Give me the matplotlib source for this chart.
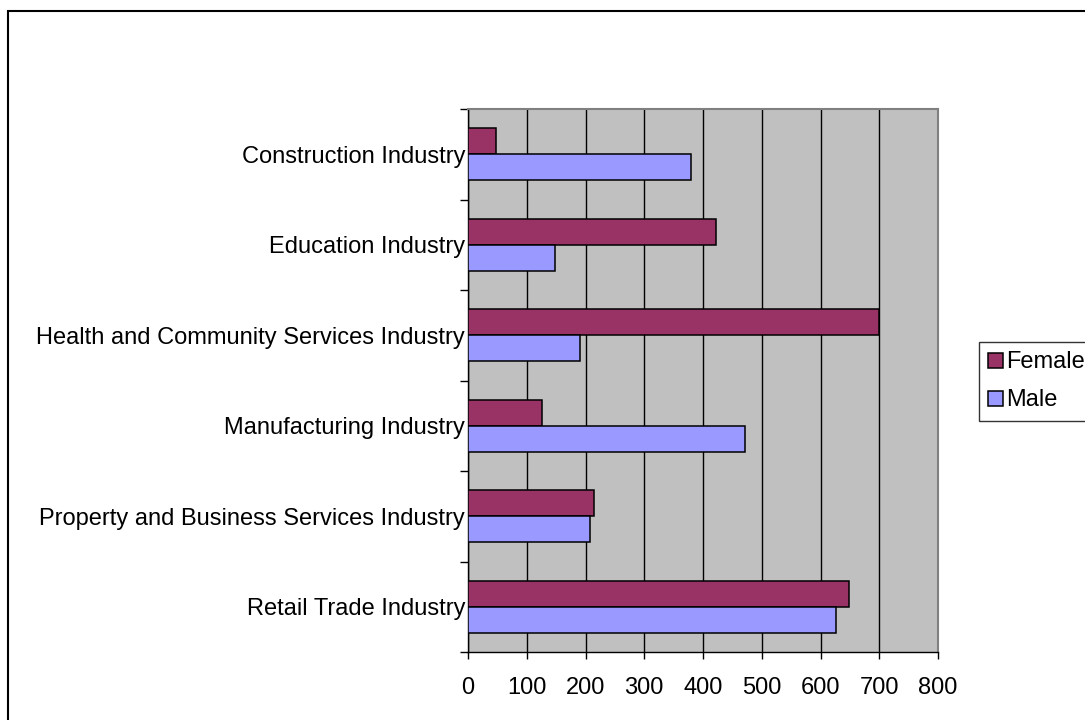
import numpy as np
import matplotlib.pyplot as plt
from matplotlib.patches import Rectangle

plt.rcParams['font.family'] = ['Liberation Sans', 'DejaVu Sans']

industries = ['Construction Industry', 'Education Industry',
              'Health and Community Services Industry', 'Manufacturing Industry',
              'Property and Business Services Industry', 'Retail Trade Industry']
female = [47, 422, 700, 126, 215, 648]
male = [380, 148, 190, 471, 208, 626]

female_color = '#993366'
male_color = '#9999FF'

fig = plt.figure(figsize=(10.85, 7.2), dpi=100)
ax = fig.add_axes([468 / 1085, 1 - 652 / 720, 470 / 1085, 543 / 720])
ax.set_facecolor('#C0C0C0')

# first category sits at the top, like the spreadsheet chart
pos = np.arange(len(industries))[::-1]
bar_h = 1 / 3.5
ax.barh(pos + bar_h / 2, female, height=bar_h, color=female_color,
        edgecolor='black', linewidth=1.1, label='Female', zorder=3)
ax.barh(pos - bar_h / 2, male, height=bar_h, color=male_color,
        edgecolor='black', linewidth=1.1, label='Male', zorder=3)

ax.set_xlim(0, 800)
ax.set_ylim(-0.5, len(industries) - 0.5)
ax.set_xticks(np.arange(0, 801, 100))
ax.xaxis.grid(True, color='black', linewidth=1, zorder=1)
ax.set_axisbelow(True)

ax.set_yticks(pos)
ax.set_yticklabels(industries)
ax.set_yticks(np.arange(-0.5, len(industries), 1), minor=True)
ax.tick_params(axis='y', which='major', length=0, pad=2, labelsize=17)
ax.tick_params(axis='y', which='minor', length=6, width=1, direction='out')
ax.tick_params(axis='x', length=5, width=1, direction='out', pad=13, labelsize=17)

for side in ('top', 'right'):
    ax.spines[side].set_color('#808080')
    ax.spines[side].set_linewidth(1.5)
for side in ('left', 'bottom'):
    ax.spines[side].set_color('black')
    ax.spines[side].set_linewidth(1)

# legend box runs past the right edge of the chart area
leg = fig.legend(loc='upper left', bbox_to_anchor=(979 / 1085, 1 - 342 / 720),
                 fontsize=17, frameon=True, fancybox=False, edgecolor='black',
                 handlelength=0.6, handleheight=0.6, handletextpad=0.15,
                 labelspacing=0.68, borderpad=0.4, borderaxespad=0)
leg.get_frame().set_linewidth(1)

# outer chart-area border
fig.patches.append(Rectangle((8 / 1085, -0.1), 1.2, 0.1 + 1 - 11 / 720,
                             transform=fig.transFigure, fill=False,
                             edgecolor='black', linewidth=1.5))

fig.savefig('out.png', dpi=100)
